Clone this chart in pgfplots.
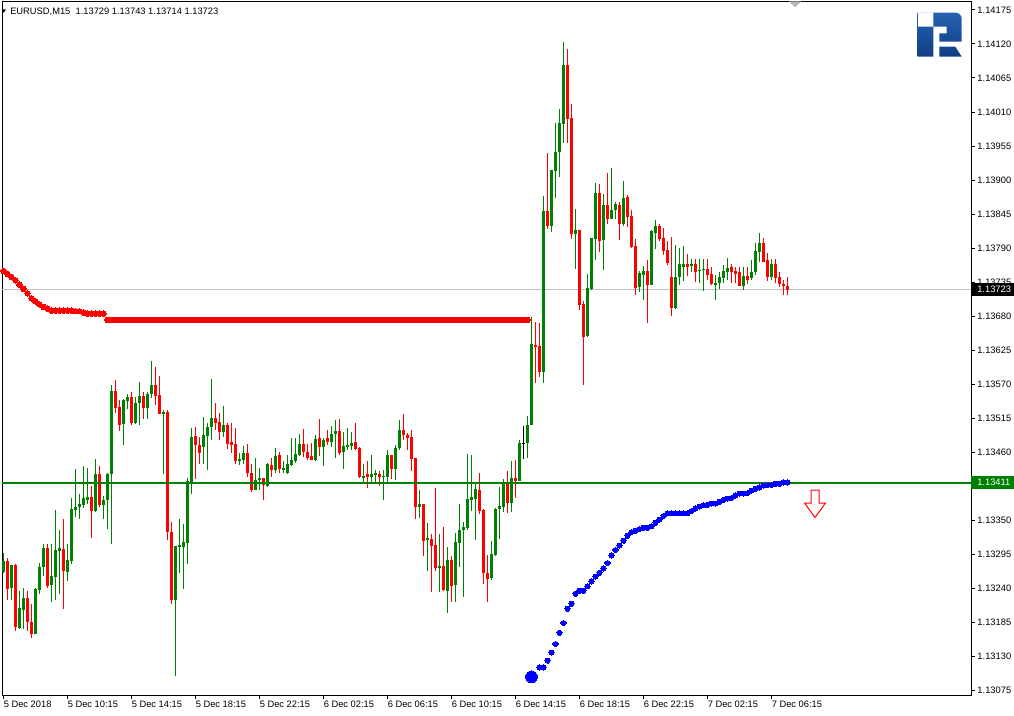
\documentclass[border=0pt]{standalone}
\usepackage{pgfplots}
\pgfplotsset{compat=1.18}
\usepackage{pgfplotstable}
\usepackage{fontspec}
\setmainfont{Liberation Sans}

\definecolor{bull}{RGB}{0,128,0}
\definecolor{bear}{RGB}{255,0,0}
\definecolor{ind}{RGB}{0,0,255}
\definecolor{curline}{RGB}{192,192,192}
\definecolor{logotop}{RGB}{36,98,176}
\definecolor{logobot}{RGB}{16,62,132}

% EURUSD M15 bars: index, open, high, low, close
\pgfplotstableread{
i o h l c
1 1.13267 1.13297 1.13264 1.13284
2 1.13284 1.13289 1.13221 1.13239
3 1.13241 1.13278 1.13221 1.13278
4 1.13278 1.13279 1.13171 1.13178
5 1.13176 1.13236 1.13174 1.13208
6 1.13205 1.13240 1.13174 1.13224
7 1.13224 1.13236 1.13171 1.13185
8 1.13185 1.13215 1.13160 1.13166
9 1.13166 1.13240 1.13166 1.13239
10 1.13238 1.13281 1.13230 1.13274
11 1.13275 1.13312 1.13260 1.13305
12 1.13305 1.13312 1.13241 1.13244
13 1.13246 1.13312 1.13218 1.13260
14 1.13259 1.13367 1.13221 1.13302
15 1.13301 1.13334 1.13231 1.13305
16 1.13303 1.13352 1.13207 1.13268
17 1.13267 1.13312 1.13252 1.13286
18 1.13284 1.13386 1.13280 1.13368
19 1.13367 1.13433 1.13356 1.13371
20 1.13371 1.13392 1.13352 1.13376
21 1.13375 1.13438 1.13370 1.13386
22 1.13383 1.13435 1.13377 1.13388
23 1.13388 1.13405 1.13322 1.13365
24 1.13365 1.13449 1.13363 1.13425
25 1.13425 1.13438 1.13372 1.13375
26 1.13375 1.13389 1.13352 1.13383
27 1.13382 1.13426 1.13336 1.13425
28 1.13424 1.13569 1.13312 1.13559
29 1.13559 1.13577 1.13524 1.13532
30 1.13533 1.13544 1.13495 1.13504
31 1.13506 1.13546 1.13471 1.13544
32 1.13543 1.13554 1.13530 1.13549
33 1.13549 1.13557 1.13504 1.13508
34 1.13508 1.13549 1.13506 1.13540
35 1.13540 1.13573 1.13504 1.13551
36 1.13551 1.13557 1.13513 1.13532
37 1.13532 1.13557 1.13514 1.13554
38 1.13554 1.13607 1.13548 1.13569
39 1.13569 1.13598 1.13536 1.13551
40 1.13552 1.13583 1.13522 1.13522
41 1.13522 1.13529 1.13425 1.13525
42 1.13525 1.13528 1.13318 1.13331
43 1.13331 1.13347 1.13215 1.13221
44 1.13221 1.13308 1.13099 1.13308
45 1.13306 1.13352 1.13264 1.13310
46 1.13307 1.13344 1.13239 1.13315
47 1.13314 1.13418 1.13280 1.13413
48 1.13411 1.13499 1.13393 1.13485
49 1.13486 1.13501 1.13416 1.13472
50 1.13472 1.13485 1.13441 1.13458
51 1.13469 1.13517 1.13441 1.13488
52 1.13487 1.13507 1.13432 1.13501
53 1.13500 1.13578 1.13479 1.13515
54 1.13515 1.13540 1.13496 1.13508
55 1.13509 1.13523 1.13480 1.13492
56 1.13492 1.13535 1.13485 1.13504
57 1.13504 1.13507 1.13466 1.13474
58 1.13476 1.13507 1.13459 1.13471
59 1.13473 1.13499 1.13441 1.13445
60 1.13445 1.13459 1.13440 1.13449
61 1.13448 1.13470 1.13441 1.13459
62 1.13459 1.13473 1.13420 1.13427
63 1.13427 1.13441 1.13396 1.13399
64 1.13399 1.13451 1.13399 1.13415
65 1.13415 1.13434 1.13399 1.13418
66 1.13418 1.13418 1.13382 1.13407
67 1.13406 1.13443 1.13404 1.13441
68 1.13439 1.13451 1.13420 1.13431
69 1.13431 1.13467 1.13427 1.13454
70 1.13455 1.13460 1.13427 1.13433
71 1.13431 1.13446 1.13427 1.13435
72 1.13427 1.13456 1.13424 1.13441
73 1.13439 1.13483 1.13438 1.13448
74 1.13445 1.13483 1.13442 1.13457
75 1.13455 1.13489 1.13454 1.13473
76 1.13473 1.13497 1.13453 1.13461
77 1.13460 1.13474 1.13448 1.13451
78 1.13454 1.13475 1.13447 1.13448
79 1.13447 1.13488 1.13446 1.13481
80 1.13483 1.13514 1.13454 1.13469
81 1.13469 1.13483 1.13438 1.13480
82 1.13483 1.13496 1.13471 1.13477
83 1.13476 1.13502 1.13469 1.13489
84 1.13490 1.13512 1.13450 1.13494
85 1.13494 1.13514 1.13455 1.13459
86 1.13460 1.13492 1.13433 1.13470
87 1.13468 1.13499 1.13464 1.13472
88 1.13470 1.13492 1.13464 1.13475
89 1.13476 1.13507 1.13464 1.13465
90 1.13467 1.13468 1.13418 1.13420
91 1.13418 1.13441 1.13412 1.13422
92 1.13425 1.13446 1.13402 1.13420
93 1.13420 1.13455 1.13412 1.13425
94 1.13423 1.13431 1.13412 1.13426
95 1.13425 1.13430 1.13405 1.13420
96 1.13420 1.13431 1.13383 1.13422
97 1.13420 1.13464 1.13412 1.13455
98 1.13455 1.13455 1.13417 1.13433
99 1.13433 1.13472 1.13415 1.13467
100 1.13467 1.13512 1.13464 1.13496
101 1.13496 1.13522 1.13480 1.13488
102 1.13488 1.13491 1.13464 1.13483
103 1.13485 1.13496 1.13430 1.13449
104 1.13451 1.13451 1.13352 1.13371
105 1.13371 1.13399 1.13354 1.13376
106 1.13376 1.13376 1.13292 1.13316
107 1.13318 1.13346 1.13268 1.13321
108 1.13320 1.13328 1.13234 1.13308
109 1.13310 1.13402 1.13268 1.13273
110 1.13273 1.13328 1.13234 1.13276
111 1.13276 1.13339 1.13236 1.13237
112 1.13236 1.13307 1.13200 1.13286
113 1.13286 1.13292 1.13218 1.13244
114 1.13245 1.13329 1.13218 1.13315
115 1.13313 1.13376 1.13274 1.13334
116 1.13334 1.13347 1.13226 1.13339
117 1.13337 1.13457 1.13334 1.13384
118 1.13383 1.13455 1.13365 1.13388
119 1.13384 1.13412 1.13318 1.13400
120 1.13399 1.13426 1.13360 1.13365
121 1.13367 1.13368 1.13247 1.13265
122 1.13265 1.13294 1.13218 1.13255
123 1.13257 1.13316 1.13253 1.13295
124 1.13294 1.13370 1.13292 1.13368
125 1.13368 1.13404 1.13320 1.13373
126 1.13371 1.13416 1.13363 1.13410
127 1.13410 1.13430 1.13362 1.13378
128 1.13378 1.13446 1.13363 1.13418
129 1.13418 1.13447 1.13386 1.13413
130 1.13413 1.13480 1.13413 1.13475
131 1.13475 1.13502 1.13449 1.13475
132 1.13475 1.13518 1.13451 1.13504
133 1.13504 1.13679 1.13504 1.13635
134 1.13633 1.13670 1.13572 1.13630
135 1.13632 1.13669 1.13582 1.13590
136 1.13590 1.13874 1.13572 1.13850
137 1.13850 1.13944 1.13821 1.13826
138 1.13826 1.13916 1.13816 1.13916
139 1.13914 1.13992 1.13871 1.13945
140 1.13945 1.14015 1.13905 1.13992
141 1.13990 1.14123 1.13960 1.14086
142 1.14086 1.14112 1.13960 1.13999
143 1.14000 1.14023 1.13805 1.13813
144 1.13813 1.13853 1.13756 1.13819
145 1.13819 1.13819 1.13690 1.13698
146 1.13700 1.13704 1.13569 1.13646
147 1.13648 1.13748 1.13646 1.13725
148 1.13724 1.13806 1.13722 1.13806
149 1.13805 1.13895 1.13771 1.13879
150 1.13879 1.13894 1.13784 1.13801
151 1.13803 1.13877 1.13755 1.13860
152 1.13860 1.13911 1.13829 1.13837
153 1.13837 1.13919 1.13837 1.13852
154 1.13852 1.13864 1.13837 1.13861
155 1.13860 1.13864 1.13803 1.13829
156 1.13829 1.13898 1.13826 1.13871
157 1.13872 1.13876 1.13824 1.13840
158 1.13842 1.13852 1.13790 1.13792
159 1.13793 1.13805 1.13714 1.13725
160 1.13727 1.13753 1.13719 1.13750
161 1.13746 1.13761 1.13706 1.13753
162 1.13753 1.13771 1.13669 1.13730
163 1.13730 1.13819 1.13730 1.13818
164 1.13814 1.13835 1.13788 1.13826
165 1.13826 1.13829 1.13801 1.13805
166 1.13806 1.13822 1.13779 1.13785
167 1.13787 1.13801 1.13763 1.13766
168 1.13743 1.13808 1.13680 1.13693
169 1.13693 1.13795 1.13691 1.13743
170 1.13743 1.13790 1.13730 1.13764
171 1.13759 1.13793 1.13737 1.13764
172 1.13764 1.13780 1.13745 1.13759
173 1.13761 1.13772 1.13751 1.13764
174 1.13764 1.13772 1.13735 1.13751
175 1.13753 1.13772 1.13733 1.13755
176 1.13755 1.13772 1.13721 1.13757
177 1.13757 1.13772 1.13738 1.13747
178 1.13748 1.13759 1.13730 1.13732
179 1.13730 1.13746 1.13706 1.13733
180 1.13733 1.13751 1.13724 1.13743
181 1.13742 1.13763 1.13733 1.13753
182 1.13751 1.13774 1.13738 1.13758
183 1.13759 1.13764 1.13733 1.13751
184 1.13753 1.13759 1.13733 1.13748
185 1.13751 1.13759 1.13729 1.13729
186 1.13729 1.13759 1.13722 1.13745
187 1.13745 1.13759 1.13732 1.13738
188 1.13742 1.13771 1.13738 1.13751
189 1.13751 1.13798 1.13746 1.13785
190 1.13784 1.13814 1.13767 1.13798
191 1.13798 1.13806 1.13767 1.13767
192 1.13771 1.13782 1.13737 1.13743
193 1.13743 1.13772 1.13738 1.13764
194 1.13764 1.13772 1.13733 1.13742
195 1.13743 1.13751 1.13727 1.13732
196 1.13732 1.13738 1.13714 1.13729
197 1.13729 1.13743 1.13714 1.13723
}\bars

\pgfplotsset{
  wick/.style={draw=#1, color=#1, line width=0.75pt, mark=none, forget plot,
    quiver={u=0, v=\thisrow{h}-\thisrow{l}}},
  body/.style={only marks, mark=text, text mark={}, forget plot,
    error bars/.cd, y dir=plus, y explicit, error mark=none,
    error bar style={#1, line width=2.25pt}},
}

\begin{document}
\begin{tikzpicture}
\path[use as bounding box] (0,0) rectangle (760.5pt,536.25pt);
\begin{axis}[
  at={(1.65pt,15pt)}, anchor=south west,
  scale only axis, width=726.75pt, height=520.275pt,
  xmin=0.675, xmax=242.925, ymin=1.130675, ymax=1.14189,
  axis line style={line width=0.75pt},
  scaled ticks=false,
  tick align=outside, major tick length=3pt,
  tick style={black, line width=0.75pt},
  xtick pos=left, ytick pos=right, yticklabel pos=right,
  xtick={1,17,...,193},
  xticklabels={5 Dec 2018,5 Dec 10:15,5 Dec 14:15,5 Dec 18:15,5 Dec 22:15,
    6 Dec 02:15,6 Dec 06:15,6 Dec 10:15,6 Dec 14:15,6 Dec 18:15,
    6 Dec 22:15,7 Dec 02:15,7 Dec 06:15},
  ytick={1.13075,1.1313,1.13185,1.1324,1.13295,1.1335,1.13405,1.1346,
    1.13515,1.1357,1.13625,1.1368,1.13735,1.1379,1.13845,1.139,
    1.13955,1.1401,1.14065,1.1412,1.14175},
  yticklabels={1.13075,1.13130,1.13185,1.13240,1.13295,1.13350,{},
    1.13460,1.13515,1.13570,1.13625,1.13680,1.13735,1.13790,1.13845,
    1.13900,1.13955,1.14010,1.14065,1.14120,1.14175},
  ticklabel style={font=\fontsize{7}{8.4}\selectfont},
  xticklabel style={anchor=north west, inner xsep=0pt, inner ysep=1pt},
  yticklabel style={anchor=west, inner xsep=1.5pt},
]
% current price line, behind bars
\addplot[curline, line width=0.75pt, forget plot] coordinates {(0.675,1.13723) (242.925,1.13723)};

% wicks
\addplot[wick=bull]
  table[x expr={\thisrow{c}>\thisrow{o} ? \thisrow{i} : nan}, y=l] {\bars};
\addplot[wick=bear]
  table[x expr={\thisrow{c}<\thisrow{o} ? \thisrow{i} : nan}, y=l] {\bars};
% bodies
\addplot[body=bull]
  table[x expr={\thisrow{c}>\thisrow{o} ? \thisrow{i} : nan}, y=o,
        y error expr={\thisrow{c}-\thisrow{o}}] {\bars};
\addplot[body=bear]
  table[x expr={\thisrow{c}<\thisrow{o} ? \thisrow{i} : nan}, y=c,
        y error expr={\thisrow{o}-\thisrow{c}}] {\bars};
% doji (bar 131, open = close)
\addplot[black, only marks, mark=-, mark size=1.125pt, forget plot,
  error bars/.cd, y dir=both, y explicit, error mark=none,
  error bar style={black, line width=0.75pt}]
  coordinates {(131,1.13475) += (0,0.00027) -= (0,0.00026)};

% red dotted indicator
\addplot[bear, only marks, mark=*, mark size=2.1pt, mark options={line width=0pt}] coordinates {
(0,1.13758) (1,1.13753) (2,1.13748) (3,1.13743) (4,1.13738) (5,1.13731) (6,1.13724) (7,1.13717)
(8,1.13709) (9,1.13704) (10,1.13699) (11,1.13695) (12,1.13692) (13,1.13689) (14,1.13689)
(15,1.13689) (16,1.13689) (17,1.13689) (18,1.13689) (19,1.13688) (20,1.13688) (21,1.13686)
(22,1.13684) (23,1.13684) (24,1.13684) (25,1.13684) (26,1.13684)
(27,1.13674) (28,1.13674) (29,1.13674) (30,1.13674) (31,1.13674) (32,1.13674) (33,1.13674)
(34,1.13674) (35,1.13674) (36,1.13674) (37,1.13674) (38,1.13674) (39,1.13674) (40,1.13674)
(41,1.13674) (42,1.13674) (43,1.13674) (44,1.13674) (45,1.13674) (46,1.13674) (47,1.13674)
(48,1.13674) (49,1.13674) (50,1.13674) (51,1.13674) (52,1.13674) (53,1.13674) (54,1.13674)
(55,1.13674) (56,1.13674) (57,1.13674) (58,1.13674) (59,1.13674) (60,1.13674) (61,1.13674)
(62,1.13674) (63,1.13674) (64,1.13674) (65,1.13674) (66,1.13674) (67,1.13674) (68,1.13674)
(69,1.13674) (70,1.13674) (71,1.13674) (72,1.13674) (73,1.13674) (74,1.13674) (75,1.13674)
(76,1.13674) (77,1.13674) (78,1.13674) (79,1.13674) (80,1.13674) (81,1.13674) (82,1.13674)
(83,1.13674) (84,1.13674) (85,1.13674) (86,1.13674) (87,1.13674) (88,1.13674) (89,1.13674)
(90,1.13674) (91,1.13674) (92,1.13674) (93,1.13674) (94,1.13674) (95,1.13674) (96,1.13674)
(97,1.13674) (98,1.13674) (99,1.13674) (100,1.13674) (101,1.13674) (102,1.13674) (103,1.13674)
(104,1.13674) (105,1.13674) (106,1.13674) (107,1.13674) (108,1.13674) (109,1.13674) (110,1.13674)
(111,1.13674) (112,1.13674) (113,1.13674) (114,1.13674) (115,1.13674) (116,1.13674) (117,1.13674)
(118,1.13674) (119,1.13674) (120,1.13674) (121,1.13674) (122,1.13674) (123,1.13674) (124,1.13674)
(125,1.13674) (126,1.13674) (127,1.13674) (128,1.13674) (129,1.13674) (130,1.13674) (131,1.13674)
(132,1.13674)
};

% blue dotted indicator
\addplot[ind, only marks, mark=*, mark size=4.4pt, mark options={line width=0pt}] coordinates {(133,1.13097)};
\addplot[ind, only marks, mark=*, mark size=1.9pt, mark options={line width=0pt}] coordinates {
(135,1.13112) (136,1.13112) (137,1.13123) (138,1.13136) (139,1.13150) (140,1.13168) (141,1.13184)
(142,1.13207) (143,1.13215) (144,1.13231) (145,1.13236) (146,1.13236) (147,1.13243) (148,1.13251)
(149,1.13259) (150,1.13265) (151,1.13272) (152,1.13281) (153,1.13293) (154,1.13302) (155,1.13309)
(156,1.13317) (157,1.13325) (158,1.13331) (159,1.13333) (160,1.13336) (161,1.13338) (162,1.13338)
(163,1.13340) (164,1.13346) (165,1.13351) (166,1.13357) (167,1.13361) (168,1.13361) (169,1.13361)
(170,1.13361) (171,1.13361) (172,1.13361) (173,1.13365) (174,1.13369) (175,1.13372) (176,1.13374)
(177,1.13375) (178,1.13377) (179,1.13377) (180,1.13380) (181,1.13383) (182,1.13385) (183,1.13386)
(184,1.13390) (185,1.13393) (186,1.13393) (187,1.13394) (188,1.13398) (189,1.13401) (190,1.13403)
(191,1.13406) (192,1.13407) (193,1.13407) (194,1.13409) (195,1.13409) (196,1.13411) (197,1.13411)
};

% horizontal level
\addplot[bull, line width=1.5pt, forget plot] coordinates {(0.675,1.13411) (242.925,1.13411)};
\end{axis}

% overlays in pixel units (origin top left)
\begin{scope}[x=0.75pt, y=-0.75pt, yshift=536.25pt]
  % header
  \fill[black] (1.7,9.3) -- (5.9,9.3) -- (3.8,12.8) -- cycle;
  \node[anchor=west, inner sep=0pt, font=\fontsize{7}{8.4}\selectfont] at (10,12.3)
    {EURUSD,M15\ \ 1.13729 1.13743 1.13714 1.13723};
  % small shift marker
  \fill[gray!55] (789,1.5) -- (801,1.5) -- (795,7.5) -- cycle;
  % logo
  \shade[top color=logotop, bottom color=logobot]
    (917.7,12.7) rectangle (933.3,56.7)
    (917.7,12.7) [rounded corners=4.5] -- (961.7,12.7) [sharp corners] -- (961.7,41.7)
      -- (939.3,41.7) -- (939.3,33.3) -- (946.7,33.3) -- (946.7,26.7) -- (917.7,26.7) -- cycle
    (939.3,46.7) -- (955.3,46.7) -- (961.7,56.7) -- (939.3,56.7) -- cycle;
  % sell arrow
  \draw[bear, fill=white, line width=0.75pt]
    (811,490) -- (819,490) -- (819,503) -- (825.5,503) -- (815,517.5)
    -- (804.5,503) -- (811,503) -- cycle;
  % price labels on the scale
  \fill[black] (971,283) rectangle (1014,296);
  \node[anchor=west, inner sep=0pt, text=white, font=\fontsize{7}{8.4}\selectfont] at (977,289.6) {1.13723};
  \fill[bull] (971,476) rectangle (1014,489);
  \node[anchor=west, inner sep=0pt, text=white, font=\fontsize{7}{8.4}\selectfont] at (977,482.6) {1.13411};
\end{scope}
\end{tikzpicture}
\end{document}
